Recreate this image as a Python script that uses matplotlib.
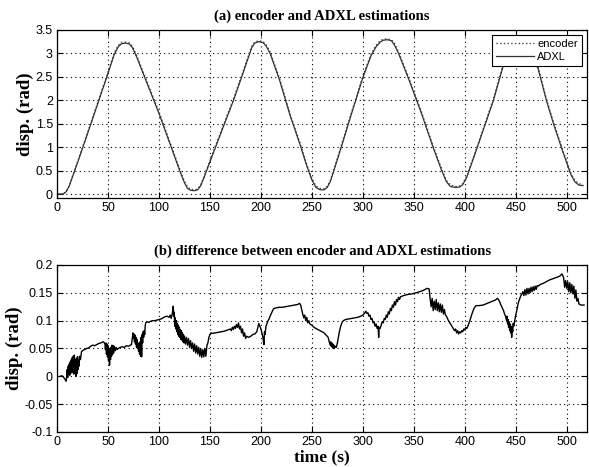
import matplotlib
matplotlib.use("Agg")
import matplotlib.pyplot as plt

# (a) disp. stimate dall'ADXL e dall'encoder (rad)
t_top = [0, 6, 9, 12, 20, 30, 40, 50, 56, 60, 63, 67, 71, 74, 78, 88, 100, 112, 120,
         125, 128, 131, 135, 138, 141, 144, 152, 162, 173, 182, 188, 191, 194, 198,
         202, 205, 209, 218, 229, 238, 245, 250, 254, 258, 262, 265, 268, 276, 288,
         300, 308, 313, 317, 320, 324, 328, 331, 335, 345, 357, 369, 377, 382, 386,
         391, 395, 398, 402, 412, 428, 437, 444, 448, 452, 456, 460, 464, 472, 480,
         487, 497, 504, 508, 512, 516]
adxl = [0.0, 0.0, 0.05, 0.17, 0.66, 1.29, 1.93, 2.57, 2.97, 3.14, 3.2, 3.22, 3.2,
        3.12, 2.93, 2.38, 1.72, 1.0, 0.52, 0.24, 0.12, 0.08, 0.07, 0.09, 0.18, 0.34,
        0.8, 1.37, 1.99, 2.55, 2.93, 3.12, 3.22, 3.25, 3.23, 3.16, 3.0, 2.45, 1.65,
        1.08, 0.6, 0.3, 0.14, 0.09, 0.09, 0.14, 0.26, 0.8, 1.65, 2.48, 2.95, 3.14,
        3.24, 3.28, 3.29, 3.27, 3.18, 3.0, 2.45, 1.75, 0.99, 0.52, 0.26, 0.16, 0.14,
        0.15, 0.2, 0.36, 0.98, 1.99, 2.68, 3.1, 3.25, 3.3, 3.3, 3.2, 3.0, 2.67, 2.0,
        1.5, 0.85, 0.42, 0.26, 0.19, 0.18]
encoder = [0.0, 0.0, 0.05, 0.18, 0.68, 1.31, 1.95, 2.6, 3.0, 3.17, 3.23, 3.24, 3.22,
           3.15, 2.96, 2.41, 1.75, 1.03, 0.55, 0.27, 0.15, 0.1, 0.09, 0.11, 0.2, 0.36,
           0.83, 1.4, 2.02, 2.58, 2.96, 3.15, 3.24, 3.27, 3.25, 3.19, 3.03, 2.48, 1.68,
           1.11, 0.63, 0.33, 0.17, 0.12, 0.11, 0.16, 0.28, 0.83, 1.68, 2.51, 2.98, 3.17,
           3.27, 3.3, 3.31, 3.29, 3.21, 3.03, 2.48, 1.78, 1.02, 0.55, 0.29, 0.19, 0.16,
           0.17, 0.22, 0.38, 1.0, 2.02, 2.71, 3.13, 3.28, 3.32, 3.32, 3.23, 3.03, 2.7,
           2.03, 1.53, 0.88, 0.45, 0.29, 0.22, 0.2]

# (b) differenza encoder - ADXL (rad)
t_diff = [3, 5, 7, 8, 9, 9.5,
          10, 10.5, 11, 11.5, 12, 12.5, 13, 13.5, 14, 14.5, 15, 15.5, 16, 16.5, 17, 17.5,
          18, 18.5, 19, 19.5, 20, 20.5, 21, 21.5, 22, 23, 24,
          25, 27, 29, 31, 33, 35, 37, 39, 41, 43, 45, 46,
          47, 47.5, 48, 48.5, 49, 49.5, 50, 50.5, 51, 51.5, 52, 52.5, 53, 53.5, 54, 54.5,
          55, 55.5, 56, 57, 58, 59,
          60, 62, 64, 66, 68, 70, 72, 73,
          74, 74.5, 75, 75.5, 76, 76.5, 77, 77.5, 78, 78.5, 79, 79.5, 80, 80.5, 81, 81.5,
          82, 82.5, 83, 83.5, 84, 84.5, 85, 85.5, 86, 86.5, 87,
          88, 90, 92, 94, 96, 98, 100, 102, 104, 106, 108, 110, 111, 112, 113, 113.5,
          114, 114.5,
          115, 115.5, 116, 116.5, 117, 117.5, 118, 118.5, 119, 119.5, 120, 120.5, 121,
          121.5, 122, 122.5, 123, 123.5, 124, 124.5, 125, 126, 127, 128, 129, 130, 131,
          132, 133, 134, 135, 136, 137, 138, 139, 140, 141, 142, 143, 144, 145, 146, 147,
          148, 149, 150, 151,
          152, 155, 158, 161, 164, 167, 170,
          171, 172, 173, 174, 175, 176, 177, 178, 179, 180, 181, 182, 183, 184, 185, 186,
          188, 190, 192, 194, 196,
          197, 198, 199, 200, 201, 202, 203, 203.5, 204, 205,
          206, 207, 208, 209, 210, 211, 212, 213,
          215, 218, 221, 224, 227, 230, 233, 236, 238,
          239, 240, 241, 242, 243, 244, 245, 246, 247, 248, 250, 252, 254, 256, 258, 260,
          262, 264, 266,
          267, 268, 268.5, 269, 269.5, 270, 270.5, 271, 271.5, 272, 273, 274, 275,
          276, 277, 278, 279, 280, 281, 283,
          286, 289, 292, 295, 298, 300, 302, 303, 304, 305,
          306, 307, 308, 309, 310, 311, 312, 313, 314, 315, 315.5, 316, 317,
          318, 319, 320, 321, 322, 323, 324, 325, 326, 327, 328, 329, 330, 331, 332, 333,
          334, 335, 336, 337,
          340, 344, 348, 352, 356, 360, 363, 365,
          366, 367, 368, 369, 370, 371, 372, 373, 374, 375, 376, 377, 378, 379, 380, 381,
          382,
          384, 386, 388, 390, 391, 392, 393, 394, 395, 396, 397, 398, 399, 400, 401, 402,
          403,
          405, 407, 409, 411,
          414, 418, 422, 426, 430, 432, 433,
          434, 435, 436, 437, 438, 439, 440, 441, 441.5, 442, 442.5, 443, 443.5, 444,
          444.5, 445, 445.5, 446, 446.5, 447, 447.5, 448,
          449, 450, 451, 452, 453, 454, 455, 456, 457,
          458, 459, 460, 461, 462, 463, 464, 465, 466, 467, 468, 469, 470, 471, 472,
          474, 477, 480, 483, 486, 489, 492, 494, 495, 496, 497,
          498, 499, 500, 501, 502, 503, 504, 505, 506, 507, 508, 509, 510, 511, 512, 514,
          517]
diff = [0.0, 0.001, -0.003, -0.006, -0.009, 0.0,
        0.012, -0.002, 0.018, 0.004, 0.022, 0.002, 0.026, 0.008, 0.03, 0.006, 0.034, 0.01,
        0.036, 0.004, 0.038, 0.012, 0.03, 0.0, 0.032, 0.005, 0.035, 0.012, 0.03, 0.018,
        0.036, 0.03, 0.044,
        0.046, 0.048, 0.05, 0.051, 0.054, 0.056, 0.055, 0.057, 0.059, 0.06, 0.062, 0.061,
        0.058, 0.048, 0.06, 0.04, 0.058, 0.035, 0.055, 0.028, 0.05, 0.02, 0.048, 0.03,
        0.052, 0.036, 0.056, 0.04, 0.055, 0.042, 0.054, 0.046, 0.052, 0.048,
        0.05, 0.052, 0.053, 0.052, 0.055, 0.054, 0.056, 0.057,
        0.07, 0.078, 0.068, 0.076, 0.062, 0.074, 0.058, 0.07, 0.052, 0.066, 0.05, 0.06,
        0.045, 0.058, 0.04, 0.062, 0.036, 0.07, 0.035, 0.075, 0.06, 0.08, 0.07, 0.082,
        0.075, 0.09, 0.096,
        0.098, 0.097, 0.099, 0.1, 0.1, 0.101, 0.102, 0.103, 0.105, 0.107, 0.108, 0.106,
        0.11, 0.104, 0.112, 0.118, 0.126, 0.108,
        0.115, 0.09, 0.105, 0.085, 0.1, 0.08, 0.095, 0.075, 0.092, 0.072, 0.088, 0.07,
        0.084, 0.066, 0.082, 0.065, 0.078, 0.062, 0.075, 0.06, 0.072, 0.058, 0.07, 0.056,
        0.068, 0.052, 0.064, 0.05, 0.06, 0.045, 0.058, 0.042, 0.055, 0.04, 0.052, 0.036,
        0.05, 0.034, 0.048, 0.035, 0.05, 0.036, 0.055, 0.06, 0.07, 0.075, 0.078,
        0.077, 0.078, 0.079, 0.08, 0.081, 0.083, 0.085,
        0.082, 0.088, 0.084, 0.09, 0.086, 0.093, 0.088, 0.096, 0.085, 0.09, 0.078, 0.085,
        0.072, 0.078, 0.068, 0.072,
        0.07, 0.072, 0.075, 0.076, 0.08,
        0.088, 0.095, 0.09, 0.085, 0.078, 0.07, 0.057, 0.08, 0.075, 0.09,
        0.095, 0.1, 0.103, 0.108, 0.112, 0.116, 0.12, 0.122,
        0.123, 0.124, 0.124, 0.125, 0.126, 0.127, 0.128, 0.129, 0.131,
        0.128, 0.12, 0.112, 0.105, 0.11, 0.1, 0.106, 0.096, 0.1, 0.094, 0.092, 0.088,
        0.086, 0.084, 0.082, 0.08, 0.078, 0.074, 0.07,
        0.062, 0.056, 0.062, 0.054, 0.06, 0.052, 0.058, 0.05, 0.056, 0.05, 0.054, 0.052,
        0.06,
        0.07, 0.08, 0.088, 0.094, 0.098, 0.1, 0.102,
        0.103, 0.104, 0.105, 0.106, 0.108, 0.11, 0.114, 0.117, 0.113, 0.114,
        0.108, 0.11, 0.102, 0.104, 0.096, 0.098, 0.09, 0.094, 0.086, 0.09, 0.07, 0.088,
        0.086,
        0.092, 0.098, 0.096, 0.104, 0.102, 0.11, 0.106, 0.116, 0.112, 0.122, 0.118, 0.128,
        0.124, 0.134, 0.128, 0.138, 0.134, 0.142, 0.138, 0.143,
        0.145, 0.147, 0.148, 0.15, 0.152, 0.155, 0.158, 0.157,
        0.14, 0.125, 0.14, 0.118, 0.135, 0.12, 0.138, 0.118, 0.132, 0.116, 0.13, 0.115,
        0.128, 0.112, 0.12, 0.11, 0.108,
        0.1, 0.094, 0.088, 0.082, 0.085, 0.078, 0.082, 0.076, 0.08, 0.078, 0.082, 0.08,
        0.085, 0.083, 0.088, 0.086, 0.09,
        0.1, 0.112, 0.122, 0.127,
        0.127, 0.128, 0.131, 0.134, 0.137, 0.14, 0.138,
        0.135, 0.13, 0.126, 0.122, 0.118, 0.112, 0.108, 0.1, 0.108, 0.094, 0.102, 0.088,
        0.098, 0.082, 0.094, 0.078, 0.09, 0.07, 0.088, 0.08, 0.095, 0.09,
        0.1, 0.11, 0.118, 0.128, 0.135, 0.14, 0.145, 0.148, 0.152,
        0.145, 0.156, 0.146, 0.158, 0.148, 0.158, 0.15, 0.16, 0.152, 0.161, 0.154, 0.162,
        0.156, 0.163, 0.162,
        0.165, 0.167, 0.17, 0.173, 0.175, 0.177, 0.179, 0.181, 0.184, 0.182, 0.176,
        0.16, 0.172, 0.158, 0.17, 0.152, 0.168, 0.15, 0.165, 0.148, 0.162, 0.14, 0.155,
        0.135, 0.14, 0.13, 0.128, 0.128]

serif = ["Liberation Serif", "DejaVu Serif"]
plt.rcParams["font.family"] = ["Liberation Sans", "DejaVu Sans"]
plt.rcParams["font.size"] = 9

fig = plt.figure(figsize=(5.89, 4.67), dpi=100)
ax1 = fig.add_axes([0.0968, 0.576, 0.900, 0.36])
ax2 = fig.add_axes([0.0968, 0.075, 0.900, 0.3576])

ax1.plot(t_top, encoder, ":", color="#444444", lw=1.0, label="encoder")
ax1.plot(t_top, adxl, "-", color="#333333", lw=0.9, label="ADXL")
ax1.set_xlim(0, 520)
ax1.set_ylim(-0.085, 3.5)
ax1.set_yticks([0, 0.5, 1, 1.5, 2, 2.5, 3, 3.5])
ax1.set_yticklabels(["0", "0.5", "1", "1.5", "2", "2.5", "3", "3.5"])
ax1.set_title("(a) encoder and ADXL estimations", family=serif, fontweight="bold",
              fontsize=10.5, pad=7)
ax1.set_ylabel("disp. (rad)", family=serif, fontweight="bold", fontsize=13.5, labelpad=1)
leg = ax1.legend(loc="upper right", fontsize=8, fancybox=False, framealpha=1,
                 edgecolor="black", handlelength=3.4, borderaxespad=0.5,
                 handletextpad=0.3, labelspacing=0.25, borderpad=0.35)
leg.get_frame().set_linewidth(0.8)

ax2.plot(t_diff, diff, "-", color="black", lw=1.0)
ax2.set_xlim(0, 520)
ax2.set_ylim(-0.1, 0.2)
ax2.set_yticks([-0.1, -0.05, 0, 0.05, 0.1, 0.15, 0.2])
ax2.set_yticklabels(["-0.1", "-0.05", "0", "0.05", "0.1", "0.15", "0.2"])
ax2.set_title("(b) difference between encoder and ADXL estimations", family=serif,
              fontweight="bold", fontsize=10.5, pad=7)
ax2.set_ylabel("disp. (rad)", family=serif, fontweight="bold", fontsize=13.5, labelpad=1)
ax2.set_xlabel("time (s)", family=serif, fontweight="bold", fontsize=12.5, labelpad=1)

for ax in (ax1, ax2):
    ax.set_xticks([0, 50, 100, 150, 200, 250, 300, 350, 400, 450, 500])
    ax.grid(True, linestyle=(0, (1, 3)), color="black", lw=0.8)
    ax.tick_params(direction="in", length=4, pad=3, labelsize=9, top=True, right=True)
    for s in ax.spines.values():
        s.set_linewidth(0.9)

fig.savefig("out.png", dpi=100)
